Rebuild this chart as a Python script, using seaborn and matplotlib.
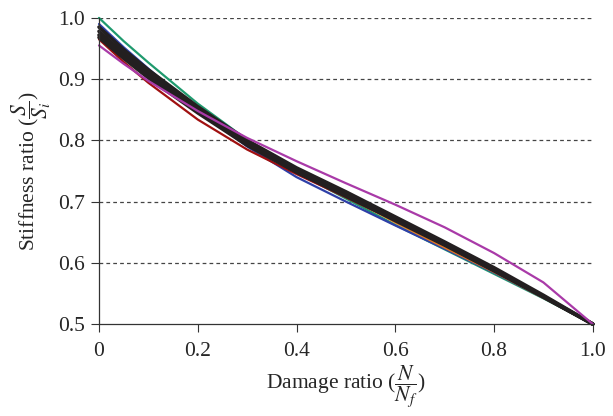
import pandas as pd
import matplotlib
matplotlib.use('Agg')
import matplotlib.pyplot as plt
import seaborn as sns

# damage ratio N/Nf
damage = [0, 0.05, 0.1, 0.2, 0.3, 0.4, 0.5, 0.6, 0.7, 0.8, 0.9, 1.0]

# stiffness ratio S/Si for each specimen
green = [1.0, 0.962, 0.927, 0.860, 0.801, 0.748, 0.705, 0.662, 0.622, 0.582, 0.542, 0.5]
blue = [0.99, 0.952, 0.917, 0.849, 0.790, 0.740, 0.700, 0.661, 0.623, 0.584, 0.543, 0.5]
dark_red = [0.965, 0.928, 0.894, 0.834, 0.785, 0.745, 0.707, 0.668, 0.628, 0.587, 0.544, 0.5]
orange = [0.97, 0.936, 0.904, 0.850, 0.798, 0.752, 0.710, 0.666, 0.625, 0.585, 0.543, 0.5]
purple = [0.955, 0.925, 0.897, 0.848, 0.804, 0.766, 0.730, 0.695, 0.658, 0.616, 0.568, 0.5]
black_1 = [0.985, 0.948, 0.915, 0.855, 0.800, 0.755, 0.716, 0.675, 0.634, 0.592, 0.547, 0.5]
black_2 = [0.978, 0.942, 0.910, 0.851, 0.797, 0.752, 0.713, 0.672, 0.631, 0.589, 0.545, 0.5]
black_3 = [0.972, 0.937, 0.905, 0.848, 0.794, 0.749, 0.710, 0.669, 0.629, 0.587, 0.544, 0.5]
black_4 = [0.968, 0.934, 0.902, 0.845, 0.792, 0.748, 0.709, 0.670, 0.630, 0.588, 0.545, 0.5]

xticks = [0, 0.2, 0.4, 0.6, 0.8, 1.0]
xtick_labels = ['0', '0.2', '0.4', '0.6', '0.8', '1.0']
yticks = [0.5, 0.6, 0.7, 0.8, 0.9, 1.0]
ytick_labels = ['0.5', '0.6', '0.7', '0.8', '0.9', '1.0']

sns.set_style('ticks')
plt.rcParams['font.family'] = ['Liberation Serif', 'DejaVu Serif']
plt.rcParams['mathtext.fontset'] = 'stix'

fig = plt.figure(figsize=(6.13, 4.16), dpi=100)
ax = fig.add_axes([0.1615, 0.221, 0.8055, 0.736])

series = [
    (green, '#1f9a6e', 1.6),
    (blue, '#2e3fa8', 1.6),
    (dark_red, '#a01010', 1.6),
    (orange, '#e07820', 1.6),
    (black_1, '#231f20', 2.6),
    (black_2, '#231f20', 2.6),
    (black_3, '#231f20', 2.6),
    (black_4, '#231f20', 2.6),
    (purple, '#a93aa8', 1.6),
]
for vals, col, lw in series:
    df = pd.DataFrame({'damage': damage, 'stiffness': vals})
    sns.lineplot(x='damage', y='stiffness', data=df, ax=ax, color=col, lw=lw,
                 clip_on=False)

for yv in yticks[1:]:
    ax.axhline(yv, color='#444444', ls=(0, (3, 2.5)), lw=0.9, zorder=0)

ax.set_xlim(0, 1.0)
ax.set_ylim(0.5, 1.0)
ax.set_xticks(xticks)
ax.set_xticklabels(xtick_labels)
ax.set_yticks(yticks)
ax.set_yticklabels(ytick_labels)
ax.tick_params(direction='out', length=6, width=0.8, labelsize=15.5, color='#333333')
ax.tick_params(axis='x', pad=7)
ax.tick_params(axis='y', pad=4)
for s in ['top', 'right']:
    ax.spines[s].set_visible(False)
for s in ['left', 'bottom']:
    ax.spines[s].set_color('#333333')
    ax.spines[s].set_linewidth(0.9)

ax.set_xlabel(r'Damage ratio ($\dfrac{N}{N_f}$)', fontsize=15.5, labelpad=2)
ax.set_ylabel(r'Stiffness ratio ($\dfrac{S}{S_i}$)', fontsize=15.5, labelpad=4)

plt.savefig('out.png', dpi=100)
